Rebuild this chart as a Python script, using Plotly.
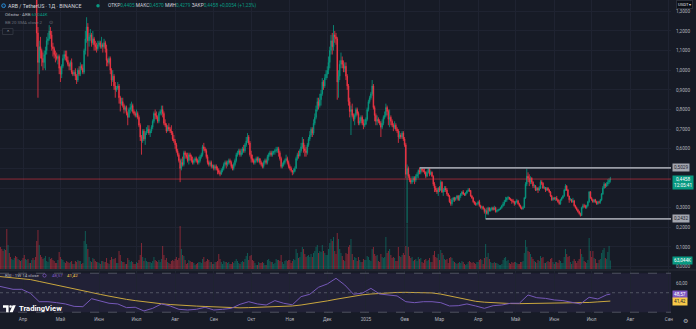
import pandas as pd
import plotly.graph_objects as go

# ---------------- ARB / TetherUS, daily candles (Binance) ----------------
# 14 Mar 2024 .. 16 Jul 2025, one line per calendar month
first_open = 2.02
session_open = 0.4405          # open of the current (last) session

close = [
    1.95,1.80,1.66,1.72,1.62,1.48,1.62,1.57,1.55,1.58,1.66,1.72,1.70,1.62,1.64,1.62,1.60,1.64,
    1.52,1.42,1.44,1.49,1.46,1.48,1.47,1.52,1.43,1.45,1.39,1.19,1.04,1.12,1.10,1.06,1.04,1.08,1.10,1.15,1.16,1.20,1.18,1.12,1.11,1.08,1.07,1.06,1.07,1.01,
    0.98,1.02,1.06,1.08,1.07,1.05,1.03,1.02,1.04,0.99,0.98,0.99,0.97,0.95,1.00,0.98,1.02,1.01,0.99,1.10,1.16,1.22,1.15,1.17,1.18,1.14,1.16,1.13,1.12,1.11,1.13,
    1.14,1.12,1.13,1.12,1.14,1.11,1.05,1.04,1.06,1.00,0.95,0.97,0.92,0.90,0.91,0.92,0.86,0.83,0.84,0.82,0.80,0.81,0.78,0.76,0.80,0.81,0.82,0.79,0.78,0.77,
    0.78,0.76,0.72,0.66,0.64,0.69,0.65,0.68,0.69,0.70,0.68,0.69,0.71,0.74,0.78,0.77,0.76,0.74,0.78,0.79,0.80,0.78,0.73,0.72,0.69,0.71,0.70,0.69,0.68,0.65,0.64,
    0.62,0.59,0.57,0.54,0.50,0.53,0.52,0.58,0.57,0.56,0.54,0.57,0.56,0.54,0.53,0.54,0.55,0.54,0.53,0.54,0.56,0.57,0.61,0.60,0.59,0.56,0.53,0.52,0.53,0.51,0.515,
    0.50,0.51,0.50,0.49,0.48,0.47,0.49,0.50,0.52,0.53,0.52,0.53,0.54,0.53,0.51,0.50,0.52,0.54,0.57,0.58,0.59,0.57,0.58,0.60,0.59,0.62,0.64,0.66,0.63,0.57,
    0.55,0.54,0.53,0.54,0.55,0.54,0.55,0.53,0.52,0.51,0.53,0.54,0.53,0.56,0.57,0.58,0.57,0.58,0.585,0.59,0.595,0.60,0.58,0.55,0.51,0.52,0.53,0.54,0.55,0.53,0.51,
    0.50,0.49,0.48,0.485,0.50,0.55,0.57,0.565,0.59,0.61,0.63,0.60,0.59,0.58,0.62,0.65,0.67,0.70,0.68,0.73,0.76,0.80,0.84,0.82,0.85,0.88,0.94,0.92,0.96,0.98,
    1.00,1.04,1.10,1.15,1.12,1.18,1.17,1.16,0.94,0.97,1.03,1.05,1.03,1.01,1.02,0.97,0.92,0.84,0.79,0.80,0.77,0.75,0.77,0.80,0.78,0.73,0.74,0.76,0.73,0.72,0.725,
    0.75,0.80,0.84,0.86,0.88,0.92,0.81,0.77,0.74,0.75,0.74,0.73,0.71,0.73,0.76,0.77,0.81,0.79,0.75,0.76,0.74,0.72,0.71,0.72,0.70,0.69,0.66,0.67,0.66,0.68,0.65,
    0.62,0.47,0.50,0.46,0.44,0.43,0.44,0.45,0.44,0.46,0.47,0.49,0.48,0.50,0.49,0.485,0.48,0.46,0.48,0.50,0.47,0.48,0.46,0.42,0.40,0.39,0.38,0.40,
    0.39,0.43,0.38,0.39,0.40,0.39,0.37,0.36,0.33,0.32,0.34,0.35,0.34,0.35,0.36,0.34,0.36,0.37,0.38,0.37,0.365,0.375,0.385,0.39,0.388,0.36,0.35,0.33,0.32,0.318,0.32,
    0.33,0.31,0.30,0.305,0.295,0.28,0.285,0.27,0.30,0.285,0.29,0.30,0.29,0.30,0.28,0.285,0.29,0.292,0.30,0.31,0.32,0.33,0.34,0.35,0.352,0.345,0.34,0.335,0.33,0.32,
    0.33,0.335,0.32,0.31,0.30,0.295,0.30,0.35,0.42,0.46,0.45,0.43,0.45,0.43,0.41,0.412,0.39,0.40,0.39,0.40,0.43,0.425,0.40,0.402,0.39,0.40,0.39,0.38,0.36,0.34,0.35,
    0.345,0.35,0.34,0.33,0.32,0.34,0.35,0.36,0.39,0.41,0.39,0.36,0.34,0.342,0.33,0.335,0.31,0.30,0.29,0.28,0.27,0.26,0.30,0.31,0.308,0.30,0.31,0.33,0.38,0.35,
    0.34,0.33,0.34,0.33,0.32,0.33,0.328,0.34,0.37,0.40,0.42,0.41,0.42,0.43,0.4404,0.4458,
]

high = [
    2.08,1.98,1.83,1.75,1.76,1.64,1.64,1.66,1.61,1.61,1.68,1.76,1.78,1.73,1.67,1.67,1.64,1.66,
    1.65,1.53,1.47,1.52,1.50,1.50,1.50,1.55,1.53,1.47,1.47,1.41,1.22,1.15,1.17,1.11,1.09,1.10,1.12,1.17,1.19,1.23,1.22,1.20,1.14,1.12,1.10,1.09,1.08,1.08,
    1.02,1.03,1.08,1.10,1.10,1.10,1.07,1.04,1.05,1.06,1.00,1.00,1.01,0.98,1.01,1.02,1.04,1.03,1.03,1.11,1.20,1.27,1.24,1.19,1.21,1.19,1.20,1.17,1.15,1.14,1.15,
    1.15,1.15,1.17,1.14,1.16,1.15,1.13,1.06,1.07,1.07,1.01,1.00,0.98,0.94,0.92,0.94,0.93,0.87,0.86,0.86,0.83,0.82,0.82,0.79,0.81,0.83,0.84,0.83,0.80,0.79,
    0.80,0.79,0.77,0.73,0.67,0.70,0.70,0.69,0.71,0.72,0.72,0.70,0.72,0.75,0.79,0.80,0.79,0.77,0.79,0.80,0.82,0.82,0.79,0.75,0.73,0.72,0.73,0.71,0.72,0.69,0.67,
    0.65,0.63,0.60,0.58,0.55,0.55,0.56,0.59,0.59,0.58,0.58,0.58,0.58,0.57,0.56,0.55,0.56,0.56,0.55,0.56,0.57,0.58,0.62,0.63,0.61,0.60,0.57,0.54,0.54,0.54,0.52,
    0.52,0.52,0.52,0.51,0.50,0.49,0.50,0.51,0.53,0.54,0.54,0.54,0.55,0.55,0.54,0.52,0.53,0.55,0.58,0.59,0.60,0.60,0.60,0.61,0.62,0.63,0.66,0.68,0.67,0.64,
    0.59,0.57,0.55,0.55,0.56,0.56,0.56,0.55,0.54,0.53,0.54,0.55,0.55,0.57,0.58,0.59,0.59,0.59,0.59,0.60,0.61,0.61,0.61,0.59,0.56,0.53,0.54,0.55,0.57,0.56,0.54,
    0.52,0.51,0.49,0.50,0.51,0.56,0.58,0.59,0.60,0.63,0.66,0.65,0.62,0.61,0.63,0.66,0.69,0.71,0.71,0.75,0.78,0.82,0.86,0.86,0.88,0.90,0.96,0.95,0.98,1.00,
    1.02,1.07,1.12,1.18,1.19,1.23,1.20,1.19,1.17,1.00,1.05,1.09,1.07,1.05,1.04,1.04,0.98,0.93,0.86,0.82,0.83,0.78,0.78,0.81,0.81,0.79,0.76,0.77,0.77,0.75,0.75,
    0.76,0.81,0.85,0.87,0.89,0.95,0.93,0.82,0.78,0.77,0.76,0.75,0.74,0.75,0.77,0.79,0.83,0.82,0.80,0.80,0.77,0.75,0.73,0.74,0.73,0.71,0.70,0.69,0.68,0.69,0.69,
    0.66,0.63,0.52,0.51,0.47,0.45,0.46,0.46,0.46,0.47,0.48,0.495,0.503,0.502,0.50,0.50,0.50,0.485,0.49,0.502,0.50,0.49,0.485,0.465,0.43,0.41,0.40,0.405,
    0.41,0.44,0.435,0.40,0.41,0.41,0.40,0.375,0.365,0.345,0.35,0.355,0.355,0.355,0.365,0.365,0.365,0.375,0.385,0.39,0.375,0.38,0.39,0.40,0.40,0.39,0.365,0.355,0.335,0.33,0.325,
    0.335,0.34,0.315,0.31,0.31,0.30,0.295,0.30,0.305,0.30,0.30,0.305,0.305,0.31,0.305,0.29,0.295,0.295,0.305,0.315,0.33,0.34,0.355,0.355,0.36,0.355,0.35,0.345,0.345,0.335,
    0.335,0.345,0.34,0.325,0.315,0.305,0.31,0.355,0.43,0.50,0.48,0.47,0.46,0.455,0.435,0.42,0.415,0.405,0.405,0.41,0.44,0.44,0.43,0.41,0.405,0.405,0.405,0.395,0.385,0.365,0.355,
    0.355,0.355,0.36,0.345,0.34,0.345,0.355,0.365,0.395,0.42,0.415,0.395,0.36,0.35,0.345,0.35,0.34,0.315,0.305,0.295,0.285,0.275,0.305,0.32,0.32,0.315,0.315,0.335,0.385,0.385,
    0.355,0.345,0.345,0.345,0.335,0.335,0.335,0.345,0.375,0.41,0.43,0.425,0.43,0.445,0.45,0.4570,
]

low = [
    1.90,1.74,1.62,1.60,1.59,1.42,1.44,1.54,1.50,1.53,1.56,1.64,1.68,1.59,1.60,1.60,1.58,1.59,
    1.50,1.40,1.39,1.42,1.41,1.45,1.46,1.46,1.40,1.39,1.38,1.12,0.86,0.98,1.06,1.02,1.00,1.01,1.00,1.08,1.13,1.15,1.16,1.10,1.07,1.06,1.04,1.05,1.03,0.98,
    0.94,0.96,1.01,1.05,1.05,1.04,1.02,1.00,1.00,0.98,0.97,0.97,0.95,0.93,0.94,0.97,0.97,1.00,0.98,0.98,1.08,1.14,1.07,1.12,1.15,1.12,1.13,1.10,1.10,1.09,1.10,
    1.12,1.11,1.11,1.09,1.11,1.09,1.02,1.02,1.03,0.98,0.92,0.94,0.90,0.86,0.89,0.90,0.83,0.79,0.82,0.81,0.78,0.79,0.77,0.72,0.76,0.78,0.79,0.78,0.77,0.76,
    0.76,0.75,0.71,0.64,0.57,0.63,0.64,0.62,0.67,0.68,0.67,0.66,0.68,0.70,0.73,0.75,0.75,0.73,0.73,0.77,0.77,0.76,0.72,0.71,0.68,0.69,0.69,0.68,0.67,0.64,0.63,
    0.60,0.58,0.56,0.53,0.43,0.49,0.51,0.51,0.55,0.55,0.53,0.52,0.54,0.53,0.52,0.52,0.53,0.53,0.52,0.52,0.53,0.55,0.56,0.59,0.58,0.55,0.52,0.51,0.51,0.50,0.50,
    0.49,0.49,0.49,0.47,0.47,0.46,0.47,0.48,0.49,0.51,0.50,0.51,0.52,0.52,0.50,0.49,0.49,0.51,0.53,0.56,0.57,0.56,0.56,0.57,0.58,0.58,0.61,0.63,0.62,0.56,
    0.53,0.53,0.52,0.52,0.53,0.53,0.53,0.52,0.51,0.50,0.50,0.52,0.52,0.52,0.54,0.56,0.56,0.56,0.57,0.57,0.58,0.58,0.56,0.54,0.50,0.50,0.51,0.52,0.54,0.52,0.50,
    0.49,0.48,0.465,0.47,0.48,0.50,0.54,0.55,0.56,0.58,0.60,0.58,0.56,0.56,0.57,0.61,0.64,0.66,0.66,0.67,0.72,0.75,0.79,0.80,0.81,0.82,0.87,0.90,0.91,0.95,
    0.96,0.98,1.01,1.08,1.08,1.10,1.14,1.13,0.85,0.86,0.95,1.01,1.01,0.99,0.99,0.95,0.90,0.82,0.76,0.67,0.76,0.74,0.72,0.76,0.77,0.72,0.72,0.73,0.72,0.70,0.71,
    0.72,0.74,0.79,0.83,0.85,0.87,0.80,0.74,0.72,0.72,0.73,0.72,0.66,0.70,0.72,0.75,0.76,0.77,0.72,0.71,0.72,0.71,0.69,0.70,0.69,0.68,0.63,0.65,0.65,0.65,0.64,
    0.61,0.45,0.22,0.45,0.43,0.42,0.42,0.43,0.42,0.43,0.45,0.45,0.47,0.47,0.48,0.48,0.47,0.45,0.455,0.475,0.46,0.465,0.455,0.41,0.38,0.38,0.37,0.36,
    0.38,0.385,0.375,0.36,0.38,0.38,0.36,0.355,0.325,0.31,0.31,0.33,0.33,0.335,0.345,0.335,0.335,0.35,0.36,0.365,0.36,0.36,0.37,0.38,0.38,0.355,0.345,0.325,0.315,0.31,0.31,
    0.315,0.305,0.295,0.29,0.29,0.27,0.2432,0.265,0.262,0.28,0.28,0.285,0.285,0.29,0.275,0.275,0.28,0.285,0.29,0.295,0.305,0.31,0.33,0.33,0.34,0.34,0.335,0.32,0.325,0.31,
    0.315,0.325,0.315,0.305,0.295,0.29,0.29,0.30,0.345,0.41,0.43,0.41,0.42,0.42,0.40,0.40,0.385,0.385,0.375,0.385,0.395,0.415,0.395,0.395,0.38,0.385,0.385,0.375,0.355,0.335,0.335,
    0.34,0.335,0.335,0.325,0.315,0.315,0.335,0.345,0.355,0.385,0.385,0.355,0.325,0.335,0.325,0.325,0.305,0.295,0.285,0.275,0.265,0.255,0.258,0.295,0.30,0.295,0.295,0.305,0.325,0.345,
    0.335,0.325,0.325,0.325,0.315,0.315,0.32,0.32,0.335,0.365,0.395,0.40,0.405,0.41,0.42,0.4279,
]

# daily volume, thousands
volume_k = [
    163,148,133,148,141,296,178,118,89,74,67,81,96,89,74,67,59,67,
    81,104,74,67,74,44,44,67,81,67,89,207,289,178,104,89,74,81,96,59,52,89,74,81,67,59,44,44,67,126,
    89,74,67,52,44,59,52,44,52,59,37,37,59,52,67,59,59,37,44,207,281,185,148,89,59,52,81,74,59,52,52,
    44,37,59,59,52,52,81,44,37,67,89,74,74,81,44,44,133,104,59,52,52,37,37,81,67,52,59,52,37,37,
    52,44,67,104,192,89,59,81,59,52,52,52,44,59,89,67,59,52,67,52,74,170,104,67,81,52,44,37,59,67,59,
    74,89,67,81,318,148,104,96,67,37,44,67,59,52,52,44,30,37,44,52,52,44,74,89,52,59,74,67,52,52,37,
    37,52,52,59,111,74,52,37,59,52,52,44,52,37,37,52,44,59,74,59,44,37,52,59,52,74,96,118,67,96,
    104,67,59,44,30,30,52,44,44,52,44,30,30,67,74,59,52,52,37,44,74,67,67,59,104,52,37,59,67,59,67,
    67,44,59,74,67,148,118,81,89,126,163,148,111,89,96,104,89,111,89,118,133,163,178,118,133,126,178,133,118,104,
    104,148,192,222,207,237,133,111,266,222,148,118,96,67,59,118,111,163,178,222,111,67,89,81,59,89,67,52,52,74,67,
    67,96,89,67,59,148,163,111,96,104,59,52,111,89,81,89,237,118,133,148,104,81,89,81,59,59,163,96,89,104,118,
    104,170,333,163,96,81,89,59,67,74,59,89,74,81,52,44,67,74,59,67,81,52,52,104,133,89,81,111,
    67,141,118,104,74,67,74,44,81,89,81,59,52,44,37,44,52,44,59,52,37,30,37,52,59,52,44,52,44,37,52,
    52,67,74,67,37,81,185,89,118,74,52,44,44,52,44,44,37,30,30,37,67,81,89,59,67,44,37,52,44,52,
    52,44,37,37,52,52,59,118,215,163,133,126,111,89,74,59,52,44,67,59,96,81,89,44,44,52,59,52,74,81,52,
    37,52,52,44,67,59,44,44,89,148,111,89,96,52,37,59,74,59,44,59,74,148,111,89,59,52,44,67,229,133,
    89,133,81,74,44,44,67,74,118,141,155,81,74,126,170,63.044,
]

# weekly RSI(14) and its moving average, plotted on each week's last day, plus the running week
rsi_w = [
    57.5,55.6,53.5,53.5,49.4,40.8,40.8,39.8,38.5,36.0,35.7,43.9,41.9,39.2,38.5,34.7,35.1,31.3,
    34.0,38.5,36.4,33.0,32.3,33.0,35.1,32.3,33.0,34.0,38.1,40.8,38.5,37.4,41.9,39.2,37.6,46.0,
    48.4,55.6,59.0,64.8,58.0,48.5,49.5,54.5,48.7,47.7,46.7,40.8,39.8,40.8,40.8,39.8,36.4,36.7,
    38.5,36.4,34.0,36.7,37.4,39.2,39.2,47.7,44.9,44.2,42.6,41.9,40.2,38.5,45.3,43.6,47.8,48.57,
]
rsi_ma = [
    67.0,66.2,65.4,64.6,63.5,61.6,59.6,57.6,55.8,54.0,52.2,50.3,48.3,46.5,44.7,43.2,41.9,40.7,
    39.6,38.7,37.9,37.2,36.7,36.3,35.9,35.5,35.0,34.6,34.5,34.7,35.0,35.3,35.7,36.0,36.4,37.4,
    38.6,40.0,41.6,43.3,45.0,46.6,47.8,48.7,49.4,50.0,50.3,50.4,50.4,50.3,49.8,48.6,46.8,44.8,
    42.8,41.2,40.3,39.6,39.1,38.9,38.8,38.9,39.1,39.3,39.4,39.5,39.5,39.6,40.0,40.6,41.2,41.42,
]

# drawn horizontal rays
resistance, resistance_from = 0.5029, "2025-02-13"
support, support_from = 0.2432, "2025-04-07"

price_ticks = [0.0, 0.1, 0.2, 0.3, 0.4, 0.5, 0.6, 0.7, 0.8, 0.9, 1.0, 1.1, 1.2, 1.3]
rsi_ticks = [40, 60]
month_labels = ["Апр", "Май", "Июн", "Июл", "Авг", "Сен", "Окт", "Ноя", "Дек", "2025",
                "Фев", "Мар", "Апр", "Май", "Июн", "Июл", "Авг", "Сен"]

assert len(close) == len(high) == len(low) == len(volume_k)
assert len(rsi_w) == len(rsi_ma)

# ---------------- derived series ----------------
dates = pd.date_range("2024-03-14", periods=len(close), freq="D")
opens = [first_open] + close[:-1]
opens[-1] = session_open
rising = [c >= o for o, c in zip(opens, close)]
rsi_dates = list(pd.date_range("2024-03-10", periods=len(rsi_w) - 1, freq="7D")) + [dates[-1]]
month_ticks = pd.date_range("2024-04-01", periods=len(month_labels), freq="MS")

# ---------------- styling ----------------
BG = "#171b26"
GRID = "#1f2331"
TXT = "#b2b5be"
GREEN = "#089981"
RED = "#f23645"
PURPLE = "#7e57c2"
YELLOW = "#f7c948"
FONT = "Roboto, 'Liberation Sans', sans-serif"

W, H = 696, 329
PLOT_W, PLOT_H = 671, 313          # plotting area (right margin holds the price scale)
PX_PER_DAY = 1.247
APR1_PX = 23
PRICE_PX = 196.36                  # pixels per 1.0 of price on the main scale
RSI_PX = 0.975                     # pixels per RSI point


def px(x):
    return x / PLOT_W


def py(y):
    return (PLOT_H - y) / PLOT_H


x_start = pd.Timestamp("2024-04-01") - pd.Timedelta(days=APR1_PX / PX_PER_DAY)
x_end = pd.Timestamp("2024-04-01") + pd.Timedelta(days=(PLOT_W - APR1_PX) / PX_PER_DAY)
vol_axis_top = 269 * 7.4


def dec(v, n=4):
    return f"{v:.{n}f}".replace(".", ",")


# scale labels that would sit under a value box are left blank (grid line stays)
def price_tick_text(t):
    if abs(t - resistance) * PRICE_PX < 6 or abs(t - support) * PRICE_PX < 6:
        return ""
    if 0 <= (close[-1] - t) * PRICE_PX < 13:
        return ""
    return dec(t)


def rsi_tick_text(t):
    if abs(t - rsi_w[-1]) * RSI_PX < 6 or abs(t - rsi_ma[-1]) * RSI_PX < 6:
        return ""
    return dec(t, 2)


fig = go.Figure()

fig.add_trace(go.Bar(
    x=dates, y=volume_k, xaxis="x", yaxis="y3",
    marker=dict(color=["rgba(8,153,129,0.5)" if r else "rgba(242,54,69,0.5)" for r in rising],
                line=dict(width=0)),
    width=0.8 * 86400000,
))

fig.add_trace(go.Candlestick(
    x=dates, open=opens, high=high, low=low, close=close, xaxis="x", yaxis="y",
    increasing=dict(line=dict(color=GREEN, width=0.8), fillcolor=GREEN),
    decreasing=dict(line=dict(color=RED, width=0.8), fillcolor=RED),
    whiskerwidth=0,
))

fig.add_trace(go.Scatter(x=rsi_dates, y=rsi_ma, xaxis="x2", yaxis="y2", mode="lines",
                         line=dict(color="#c9a63e", width=1)))
fig.add_trace(go.Scatter(x=rsi_dates, y=rsi_w, xaxis="x2", yaxis="y2", mode="lines",
                         line=dict(color="#7558b8", width=1)))

axis_font = dict(family=FONT, size=4.7, color=TXT)

fig.update_layout(
    width=W, height=H,
    margin=dict(l=0, r=W - PLOT_W, t=0, b=H - PLOT_H),
    paper_bgcolor=BG, plot_bgcolor=BG,
    showlegend=False, hovermode=False,
    separators=", ",
    font=dict(family=FONT, color=TXT),
    xaxis=dict(domain=[0, 1], anchor="y", type="date", range=[x_start, x_end],
               tickvals=month_ticks, showticklabels=False, ticks="",
               showgrid=True, gridcolor=GRID, gridwidth=1, zeroline=False,
               rangeslider=dict(visible=False), showline=False),
    yaxis=dict(domain=[py(269), 1], anchor="x", side="right",
               range=[-0.0122, 1.3577], tickvals=price_ticks,
               ticktext=[price_tick_text(t) for t in price_ticks],
               tickfont=axis_font, ticks="", ticklabelstandoff=4,
               showgrid=True, gridcolor=GRID, gridwidth=1, zeroline=False, showline=False,
               automargin=False),
    yaxis3=dict(overlaying="y", anchor="x", range=[0, vol_axis_top], visible=False),
    xaxis2=dict(domain=[0, 1], anchor="y2", type="date", range=[x_start, x_end],
                tickvals=month_ticks, ticktext=month_labels, tickfont=axis_font, ticks="",
                ticklabelstandoff=2,
                showgrid=True, gridcolor=GRID, gridwidth=1, zeroline=False, showline=False,
                automargin=False),
    yaxis2=dict(domain=[0, py(271)], anchor="x2", side="right", range=[29.2, 72.3],
                tickvals=rsi_ticks, ticktext=[rsi_tick_text(t) for t in rsi_ticks],
                tickfont=axis_font, ticks="",
                ticklabelstandoff=4, showgrid=False, zeroline=False, showline=False,
                automargin=False),
)

shapes = []
# RSI band and guide levels
shapes.append(dict(type="rect", xref="paper", yref="y2", x0=0, x1=1, y0=30, y1=70,
                   fillcolor="rgba(126,87,194,0.10)", line=dict(width=0), layer="below"))
for lvl, dash in ((70, "dash"), (50, "dot"), (30, "dash")):
    shapes.append(dict(type="line", xref="paper", yref="y2", x0=0, x1=1, y0=lvl, y1=lvl,
                       line=dict(color="rgba(120,123,134,0.55)", width=1, dash=dash)))
# pane separator
shapes.append(dict(type="line", xref="paper", yref="paper", x0=0, x1=(W / PLOT_W),
                   y0=py(270), y1=py(270), line=dict(color="#2a2e39", width=1)))
# last price line
shapes.append(dict(type="line", xref="paper", yref="y", x0=0, x1=1, y0=close[-1], y1=close[-1],
                   line=dict(color="rgba(242,54,69,0.55)", width=1)))
# horizontal rays
for lvl, start in ((resistance, resistance_from), (support, support_from)):
    shapes.append(dict(type="line", xref="x", yref="y", x0=start, x1=x_end, y0=lvl, y1=lvl,
                       line=dict(color="#9a9da6", width=1.6)))


def circle(cx, cy, r, fill, line=None):
    return dict(type="circle", xref="paper", yref="paper",
                x0=px(cx - r), x1=px(cx + r), y0=py(cy + r), y1=py(cy - r),
                fillcolor=fill, line=dict(color=line or fill, width=0.8 if line else 0))


def path(points, fill):
    d = "M " + " L ".join(f"{px(x):.5f},{py(y):.5f}" for x, y in points) + " Z"
    return dict(type="path", xref="paper", yref="paper", path=d, fillcolor=fill,
                line=dict(width=0))


# legend icons
shapes.append(circle(3.6, 5.7, 1.9, "#1b2a44", "#28a0f0"))
shapes.append(circle(98, 5.7, 1.7, GREEN))
shapes.append(circle(44.5, 275.5, 1.6, BG, PURPLE))
shapes.append(dict(type="rect", xref="paper", yref="paper", x0=px(2.5), x1=px(13),
                   y0=py(34.5), y1=py(28.5), line=dict(color="#363a45", width=0.8),
                   fillcolor=BG))
# TradingView logo mark
shapes.append(path([(3, 305.2), (8.6, 305.2), (8.6, 312.2), (6.1, 312.2), (6.1, 307.8), (3, 307.8)], "#ffffff"))
shapes.append(circle(10.6, 306.5, 1.3, "#ffffff"))
shapes.append(path([(12.6, 305.2), (15.8, 305.2), (12.7, 312.2), (9.6, 312.2)], "#ffffff"))

fig.update_layout(shapes=shapes)

ann = []


def text(x, y, s, size=4.7, color=TXT, anchor="left", **kw):
    ann.append(dict(xref="paper", yref="paper", x=px(x), y=py(y), text=s, showarrow=False,
                    xanchor=anchor, yanchor="middle", font=dict(family=FONT, size=size, color=color),
                    **kw))


def price_box(value, label, bg, fg, yref="y", yshift=0, yanchor="middle"):
    ann.append(dict(xref="paper", yref=yref, x=1, y=value, text=label, showarrow=False,
                    xanchor="left", yanchor=yanchor, xshift=1, yshift=yshift,
                    bgcolor=bg, borderpad=1,
                    font=dict(family=FONT, size=4.7, color=fg)))


o, h, l, c = opens[-1], high[-1], low[-1], close[-1]
chg = c - close[-2]
pct = chg / close[-2] * 100
sign = "+" if chg >= 0 else "−"
val_col = GREEN if c >= o else RED


def v(s):
    return f"<span style='color:{val_col}'>{s}</span>"


text(6, 5.7, "ARB / TetherUS · 1Д · BINANCE", size=5.3, color="#d1d4dc")
text(106, 5.7, "ОТКР" + v(dec(o)) + " МАКС" + v(dec(h)) + " МИН" + v(dec(l)) + " ЗАКР" + v(dec(c))
     + " " + v(f"{sign}{dec(abs(chg))} ({sign}{dec(abs(pct), 2)}%)"), size=4.8, color="#d1d4dc")
text(2.5, 14, "Объём · ARB " + f"<span style='color:{GREEN}'>{dec(volume_k[-1], 3)}K</span>", size=4.4)
text(2.5, 22, "BB 20 SMA close 2", size=4.4, color="#6a6d78")
text(47, 22, "⊙", size=5, color="#6a6d78")
text(7.7, 31.5, "⌃", size=5, color=TXT, anchor="center")

text(2.5, 275.5, "RSI · 1W 14 close", size=4.4)
text(49.5, 275.5, dec(rsi_w[-1], 2), size=4.4, color=PURPLE)
text(64.5, 275.5, dec(rsi_ma[-1], 2), size=4.4, color=YELLOW)

text(16.8, 308.7, "<b>TradingView</b>", size=7.6, color="#ffffff")
text(686, 321, "⚙", size=6, color=TXT, anchor="center")
text(684, 5, "USDT ▾", size=4.2, color="#e0e3eb", anchor="center",
     bgcolor="#0c0f16", bordercolor="#2a2e39", borderpad=1)

price_box(resistance, dec(resistance), "#a3a6af", "#1e222d")
price_box(support, dec(support), "#a3a6af", "#1e222d")
price_box(c, dec(c) + "<br>12:05:41", GREEN, "#ffffff", yanchor="top", yshift=3.8)
price_box(volume_k[-1], dec(volume_k[-1], 3) + "K", GREEN, "#ffffff", yref="y3")
price_box(rsi_w[-1], dec(rsi_w[-1], 2), PURPLE, "#ffffff", yref="y2")
price_box(rsi_ma[-1], dec(rsi_ma[-1], 2), YELLOW, "#1e222d", yref="y2")

fig.update_layout(annotations=ann)

fig.write_html("out.html")
